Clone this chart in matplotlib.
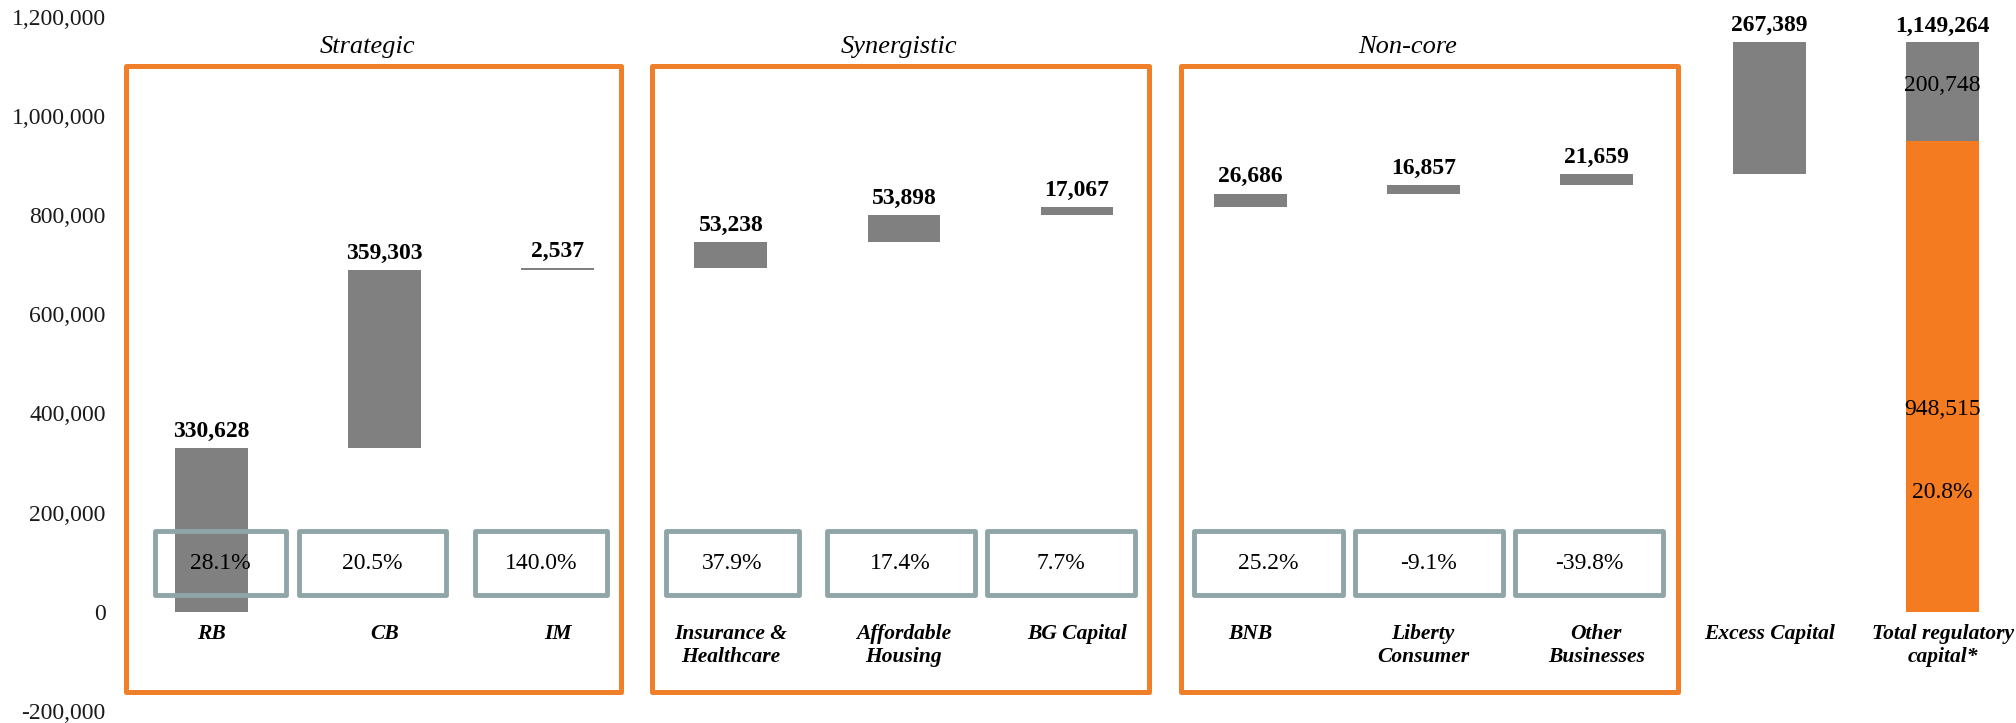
import matplotlib
matplotlib.use("Agg")
import matplotlib.pyplot as plt
from matplotlib.patches import Rectangle
from matplotlib.ticker import FuncFormatter
import numpy as np

plt.rcParams['font.family'] = ['Liberation Serif', 'DejaVu Serif']

# ---------------- data ----------------
categories = ["RB", "CB", "IM", "Insurance &\nHealthcare", "Affordable\nHousing",
              "BG Capital", "BNB", "Liberty\nConsumer", "Other\nBusinesses",
              "Excess Capital", "Total regulatory\ncapital*"]
increments = [330628, 359303, 2537, 53238, 53898, 17067, 26686, 16857, 21659, 267389]
total_required = 948515
total_excess = 200748
total_label = 1149264
returns = ["28.1%", "20.5%", "140.0%", "37.9%", "17.4%", "7.7%",
           "25.2%", "-9.1%", "-39.8%"]
total_ratio = "20.8%"
groups = ["Strategic", "Synergistic", "Non-core"]
yticks = list(range(-200000, 1200001, 200000))

# ---------------- layout / style ----------------
W, H = 2016, 723
GREY = "#808080"
ORANGE = "#F47B20"
BOX_EDGE = "#8FA5A7"
FS = 17

box_shift = [0.051, -0.07, -0.097, 0.01, -0.019, -0.093, 0.107, 0.032, -0.043]
box_width = [0.757, 0.849, 0.762, 0.764, 0.854, 0.855, 0.857, 0.856, 0.855]
box_y = (33000, 163000)
group_span = [(-0.497, 2.368), (2.547, 5.418), (5.603, 8.469)]
group_title_x = [0.90, 3.97, 6.91]
group_y = (-161000, 1099600)

fig = plt.figure(figsize=(W / 100, H / 100), dpi=100)
left_px = 125
ax = fig.add_axes([left_px / W, 12.1 / H, 1 - left_px / W, (710.9 - 16.7) / H])
unit_px = 173.1
ax.set_xlim(-0.5, -0.5 + (W - left_px) / unit_px)
ax.set_ylim(-200000, 1200000)

x = np.arange(len(categories))
inc = np.array(increments)
bottoms = np.concatenate([[0], np.cumsum(inc)[:-1]])
bw = 0.42

ax.bar(x[:len(inc)], inc, bottom=bottoms, width=bw, color=GREY, zorder=2)
ax.bar(x[-1], total_required, width=bw, color=ORANGE, zorder=2)
ax.bar(x[-1], total_excess, bottom=total_required, width=bw, color=GREY, zorder=2)

for i in range(len(inc)):
    ax.annotate(f"{inc[i]:,}", (x[i], bottoms[i] + inc[i]), xytext=(0, 12),
                textcoords="offset points", ha="center", va="center",
                fontsize=FS, fontweight="bold", color="black", zorder=5)
ax.annotate(f"{total_label:,}", (x[-1], total_required + total_excess), xytext=(0, 11),
            textcoords="offset points", ha="center", va="center",
            fontsize=FS, fontweight="bold", color="black", zorder=5)

ax.text(x[-1], 1062000, f"{total_excess:,}", ha="center", va="center", fontsize=FS, zorder=5)
ax.text(x[-1], 407000, f"{total_required:,}", ha="center", va="center", fontsize=FS, zorder=5)
ax.text(x[-1], 240000, total_ratio, ha="center", va="center", fontsize=FS, zorder=5)

# return boxes
for i, r in enumerate(returns):
    cx = x[i] + box_shift[i]
    w = box_width[i]
    ax.add_patch(Rectangle((cx - w / 2, box_y[0]), w, box_y[1] - box_y[0], fill=False,
                           edgecolor=BOX_EDGE, linewidth=3.5, joinstyle="round", zorder=3))
    ax.text(cx, (box_y[0] + box_y[1]) / 2, r, ha="center", va="center",
            fontsize=FS, zorder=5)

# group boxes
for (gx0, gx1), name, tx in zip(group_span, groups, group_title_x):
    ax.add_patch(Rectangle((gx0, group_y[0]), gx1 - gx0, group_y[1] - group_y[0],
                           fill=False, edgecolor="#F07F2A", linewidth=3.6,
                           joinstyle="round", clip_on=False, zorder=1))
    ax.text(tx, 1139500, name, ha="center", va="center", fontsize=19,
            fontstyle="italic", zorder=5)

# axes
for s in ax.spines.values():
    s.set_visible(False)
ax.spines["bottom"].set_position(("data", 0))
ax.set_xticks(x)
ax.set_xticklabels(categories, fontsize=15.5, fontweight="bold", fontstyle="italic",
                   linespacing=1.2)
ax.tick_params(axis="x", length=0, pad=9)
ax.set_yticks(yticks)
ax.yaxis.set_major_formatter(FuncFormatter(lambda v, p: f"{v:,.0f}"))
ax.tick_params(axis="y", length=0, pad=14, labelsize=FS, labelcolor="#1a1a1a")

fig.savefig("out.png", dpi=100)
